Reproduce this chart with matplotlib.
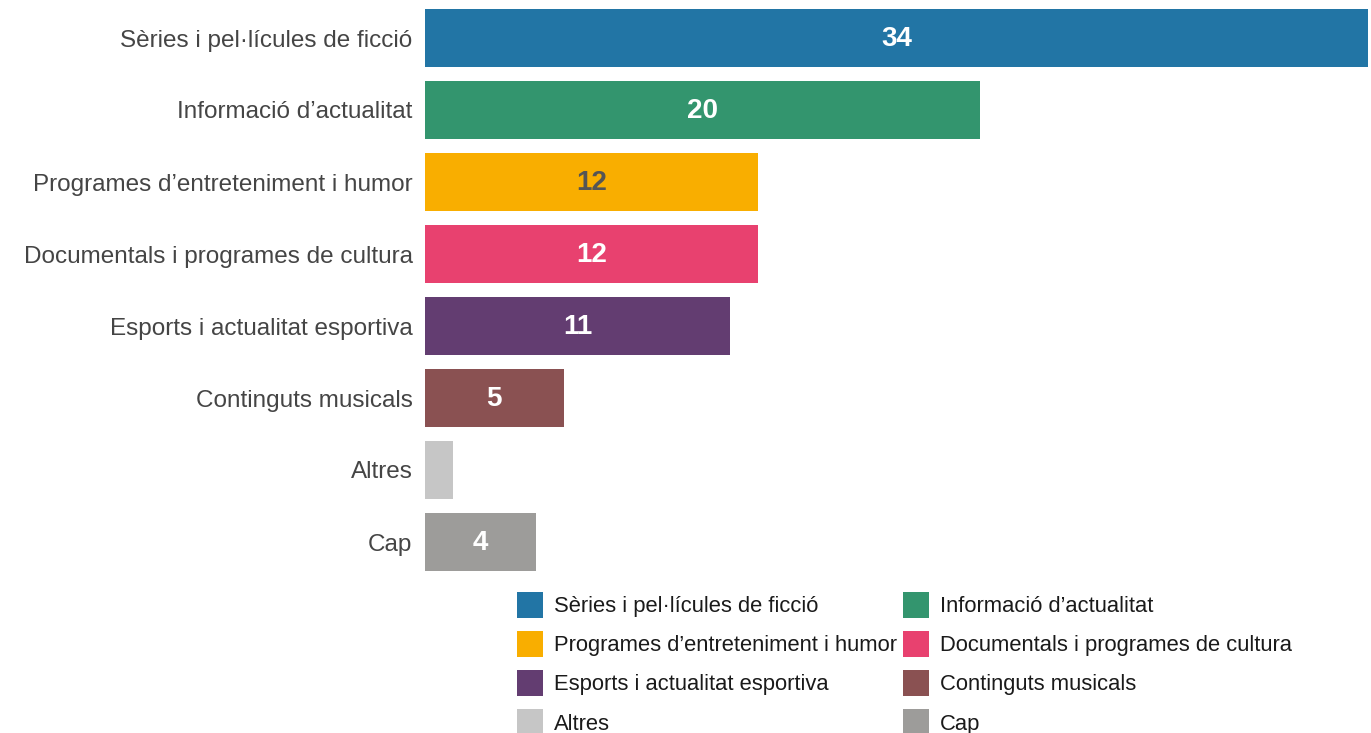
import matplotlib
matplotlib.use("Agg")
import matplotlib.pyplot as plt
from matplotlib.patches import Patch

categories = [
    "Sèries i pel·lícules de ficció",
    "Informació d’actualitat",
    "Programes d’entreteniment i humor",
    "Documentals i programes de cultura",
    "Esports i actualitat esportiva",
    "Continguts musicals",
    "Altres",
    "Cap",
]
values = [34, 20, 12, 12, 11, 5, 1, 4]
show_label = [True, True, True, True, True, True, False, True]
colors = ["#2275a5", "#33956e", "#f9ae00", "#e8416f", "#633d71", "#8a5152", "#c6c6c6", "#9d9c9a"]
label_colors = ["white", "white", "#555555", "white", "white", "white", "white", "white"]

plt.rcParams["font.family"] = ["Liberation Sans", "DejaVu Sans"]

W, H = 1371, 733
fig = plt.figure(figsize=(W / 100, H / 100), dpi=100)
ax = fig.add_axes([425 / W, 1 - 578 / H, 943 / W, 576 / H])

y = list(range(len(categories)))
ax.barh(y, values, height=0.8, color=colors)
for yi, v, show, lc in zip(y, values, show_label, label_colors):
    if show:
        ax.text(v / 2, yi + 0.02, str(v), ha="center", va="center", color=lc,
                fontsize=20, fontweight="bold")

ax.set_xlim(0, 34)
ax.set_ylim(len(categories) - 0.5, -0.5)
ax.set_yticks(y)
ax.set_yticklabels(categories, fontsize=17.5, color="#454545")
ax.tick_params(axis="y", length=0, pad=9)
ax.set_xticks([])
for s in ax.spines.values():
    s.set_visible(False)

# legend entries laid out row by row across two columns
handles = [Patch(facecolor=c, edgecolor="none") for c in colors]
order = [0, 2, 4, 6, 1, 3, 5, 7]
fig.legend([handles[i] for i in order], [categories[i] for i in order],
           ncol=2, loc="upper left", bbox_to_anchor=(517 / W, 1 - 592 / H),
           frameon=False, fontsize=15.8, borderpad=0, borderaxespad=0,
           handlelength=1.18, handleheight=1.43, handletextpad=0.52,
           labelspacing=0.61, columnspacing=0.26, labelcolor="#1a1a1a")

fig.savefig("out.png", dpi=100)
